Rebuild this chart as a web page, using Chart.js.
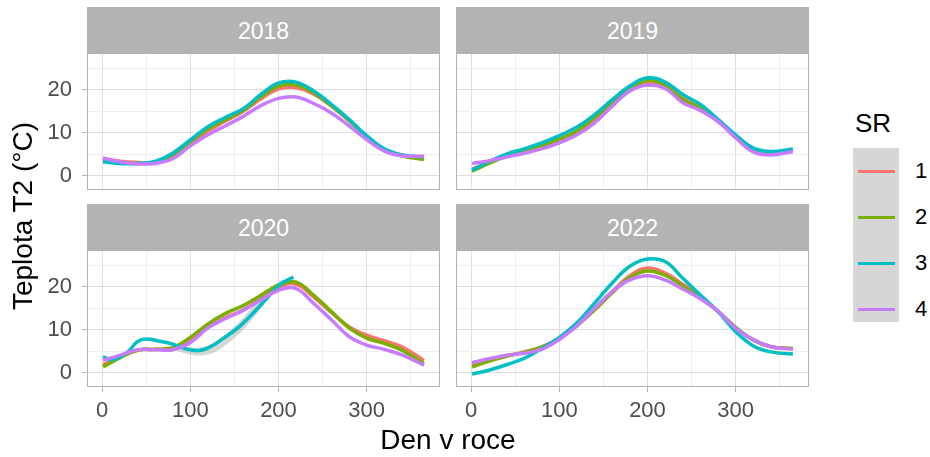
<!DOCTYPE html>
<html>
<head>
<meta charset="utf-8">
<script src="https://cdn.jsdelivr.net/npm/chart.js@4.4.1/dist/chart.umd.min.js"></script>
<style>
  body { margin: 0; background: #fff; width: 930px; height: 457px; overflow: hidden; position: relative;
         font-family: "Liberation Sans", Arial, sans-serif; }
  canvas { position: absolute; }
  .strip { position: absolute; width: 353px; height: 46px; background: #B3B3B3; color: #fff;
           font-size: 23px; line-height: 48px; text-align: center; z-index: 2; }
  .title { position: absolute; font-size: 28px; line-height: 28px; color: #000; text-align: center; z-index: 2; }
  .key-box { position: absolute; left: 853px; top: 148px; width: 46px; height: 174px; background: #D6D6D6; }
  .key-line { position: absolute; left: 858px; width: 37px; height: 3px; }
  .key-label { position: absolute; left: 915px; font-size: 22px; line-height: 22px; color: #000; }
</style>
</head>
<body>
<canvas id="c2018" width="440" height="137" style="left:0px;top:53px"></canvas>
<canvas id="c2019" width="353" height="137" style="left:456px;top:53px"></canvas>
<canvas id="c2020" width="440" height="207" style="left:0px;top:250px"></canvas>
<canvas id="c2022" width="353" height="207" style="left:456px;top:250px"></canvas>

<div class="strip" style="left:87px;top:7px">2018</div>
<div class="strip" style="left:456px;top:7px">2019</div>
<div class="strip" style="left:87px;top:204px">2020</div>
<div class="strip" style="left:456px;top:204px">2022</div>

<div class="title" style="left:298px;top:426px;width:300px">Den v roce</div>
<div class="title" style="left:-127px;top:202px;width:300px;transform:rotate(-90deg)">Teplota T2 (°C)</div>

<div class="title" style="left:855px;top:110px;font-size:26px;line-height:26px;text-align:left">SR</div>
<div class="key-box"></div>
<div id="legend"></div>

<script>
const days = [1, 20, 40, 60, 80, 100, 120, 140, 160, 180, 200, 220, 240, 260, 280, 300, 320, 340, 365];

const t2018_sr1 = [4.0, 3.3, 3.0, 3.1, 4.5, 7.6, 10.4, 12.7, 15.0, 17.9, 20.2, 20.5, 19.0, 16.2, 12.8, 9.0, 6.1, 4.7, 4.0];
const t2018_sr2 = [3.6, 3.0, 2.8, 3.1, 4.8, 7.9, 10.9, 13.0, 15.2, 18.4, 20.9, 21.1, 19.3, 16.3, 12.9, 9.1, 6.1, 4.6, 3.7];
const t2018_sr3 = [3.2, 2.8, 2.8, 3.3, 5.2, 8.3, 11.4, 13.6, 15.6, 18.9, 21.6, 21.8, 19.7, 16.6, 13.1, 9.3, 6.2, 4.8, 4.3];
const t2018_sr4 = [4.0, 3.2, 2.7, 2.8, 3.9, 6.9, 9.5, 11.6, 13.8, 16.3, 18.0, 18.3, 16.8, 14.6, 11.6, 8.4, 5.7, 4.6, 4.5];

const t2019_sr1 = [1.5, 3.0, 4.5, 5.6, 6.6, 8.0, 10.0, 13.0, 16.8, 20.0, 21.6, 20.8, 18.0, 15.8, 12.8, 9.0, 5.8, 5.0, 5.8];
const t2019_sr2 = [1.0, 2.8, 4.5, 5.8, 7.0, 8.5, 10.4, 13.5, 17.0, 20.4, 22.2, 21.0, 17.7, 15.8, 12.9, 9.1, 5.9, 5.2, 5.9];
const t2019_sr3 = [1.2, 3.2, 5.0, 6.2, 7.6, 9.3, 11.3, 14.2, 17.7, 20.9, 22.8, 21.8, 18.9, 16.6, 13.1, 9.5, 6.4, 5.6, 6.2];
const t2019_sr4 = [2.8, 3.4, 4.3, 5.2, 6.2, 7.6, 9.5, 12.3, 16.2, 19.7, 21.1, 20.3, 17.0, 15.2, 12.6, 8.8, 5.5, 4.8, 5.6];

const t2020_sr1 = [1.8, 3.6, 5.2, 5.4, 5.6, 7.6, 10.6, 12.8, 14.6, 17.2, 19.9, 20.6, 17.6, 14.0, 10.7, 8.7, 7.4, 6.0, 2.8];
const t2020_sr2 = [1.3, 3.4, 5.2, 5.4, 5.8, 8.2, 11.3, 13.8, 15.6, 18.0, 20.4, 21.1, 18.0, 14.2, 10.4, 8.0, 6.8, 5.2, 2.1];
const t2020_sr4 = [2.9, 4.0, 5.3, 5.3, 5.3, 7.0, 10.4, 12.6, 14.5, 16.9, 19.2, 19.6, 16.1, 12.3, 8.4, 6.4, 5.4, 4.1, 1.7];
// SR 3 in 2020 stops in early August
const days2020_sr3 = [1, 12, 28, 40, 50, 65, 80, 95, 110, 122, 137, 155, 170, 185, 200, 217];
const t2020_sr3 = [3.6, 3.0, 4.6, 7.2, 7.8, 7.3, 6.6, 5.5, 5.1, 5.9, 7.9, 10.6, 13.6, 16.9, 20.3, 22.3];
// visible confidence band around SR 3 in 2020
const bandDays = [85, 100, 115, 130, 145, 160, 175, 190, 205];
const bandLow = [5.0, 4.2, 4.0, 5.0, 7.2, 10.0, 13.6, 17.5, 20.5];
const bandHigh = [6.4, 5.8, 6.0, 7.4, 9.8, 12.8, 16.4, 19.6, 21.8];

const t2022_sr1 = [1.7, 2.8, 3.8, 4.8, 6.0, 8.0, 11.0, 14.8, 18.8, 22.6, 24.4, 23.2, 20.6, 17.6, 14.3, 10.5, 7.6, 6.0, 5.5];
const t2022_sr2 = [1.3, 2.6, 3.8, 4.7, 5.9, 7.9, 10.9, 14.6, 18.6, 22.2, 23.7, 22.7, 20.2, 17.4, 14.3, 10.5, 7.6, 6.0, 5.6];
const t2022_sr3 = [-0.4, 0.5, 1.8, 3.3, 5.6, 8.2, 11.6, 16.2, 20.9, 24.8, 26.5, 25.9, 22.0, 18.1, 14.2, 9.5, 6.2, 4.8, 4.3];
const t2022_sr4 = [2.3, 3.2, 4.0, 4.5, 5.4, 7.7, 10.9, 15.0, 18.9, 21.6, 22.6, 21.6, 19.5, 17.2, 14.3, 10.3, 7.6, 6.0, 5.4];

const srLabels = ['1', '2', '3', '4'];
const srColors = ['#F8766D', '#7CAE00', '#00BFC4', '#C77CFF'];
const xGrid = [0, 50, 100, 150, 200, 250, 300, 350];
const yGrid = [0, 5, 10, 15, 20, 25];

Chart.defaults.font.family = '"Liberation Sans", Arial, sans-serif';
Chart.defaults.color = '#4D4D4D';

// ggplot-like panel frame
const panelBorder = {
  id: 'panelBorder',
  afterDatasetsDraw(chart) {
    const { ctx, chartArea: a } = chart;
    ctx.save();
    ctx.strokeStyle = '#B3B3B3';
    ctx.lineWidth = 1;
    ctx.strokeRect(a.left + 0.5, a.top + 0.5, a.right - a.left - 1, a.bottom - a.top - 1);
    ctx.restore();
  }
};

function toPoints(xs, ys) {
  return xs.map((d, k) => ({ x: d, y: ys[k] }));
}

function lineSet(values, i, xs) {
  return {
    label: srLabels[i],
    data: toPoints(xs || days, values),
    borderColor: srColors[i],
    borderWidth: 3.5,
    pointRadius: 0,
    tension: 0.4,
    fill: false,
    order: 4 - i
  };
}

// keep the panel exactly where the axes say, no label padding
function noPad(s) {
  s.paddingTop = 0;
  s.paddingBottom = 0;
  s.paddingLeft = 0;
  s.paddingRight = 0;
}

function panel(id, datasets, showX, showY) {
  const isMajorX = c => c.tick && c.tick.value % 100 === 0;
  const isMajorY = c => c.tick && c.tick.value % 10 === 0;
  new Chart(document.getElementById(id), {
    type: 'line',
    data: { datasets: datasets },
    plugins: [panelBorder],
    options: {
      responsive: false,
      animation: false,
      layout: { padding: 0, autoPadding: false },
      plugins: { legend: { display: false }, tooltip: { enabled: false } },
      events: [],
      scales: {
        x: {
          type: 'linear', min: -17.2, max: 383.2,
          afterBuildTicks: s => { s.ticks = xGrid.map(v => ({ value: v })); },
          afterFit: s => { s.height = showX ? 70 : 0; noPad(s); },
          border: { display: false },
          grid: {
            color: c => isMajorX(c) ? '#DEDEDE' : '#EDEDED',
            lineWidth: 1,
            drawTicks: showX,
            tickLength: 5,
            tickColor: c => isMajorX(c) ? '#B3B3B3' : 'rgba(0,0,0,0)'
          },
          ticks: {
            display: showX, autoSkip: false, maxRotation: 0, padding: 6,
            color: '#4D4D4D', font: { size: 22 },
            callback: v => v % 100 === 0 ? v : ''
          }
        },
        y: {
          type: 'linear', min: -3.4, max: 28.6,
          afterBuildTicks: s => { s.ticks = yGrid.map(v => ({ value: v })); },
          afterFit: s => { s.width = showY ? 87 : 0; noPad(s); },
          border: { display: false },
          grid: {
            color: c => isMajorY(c) ? '#DEDEDE' : '#EDEDED',
            lineWidth: 1,
            drawTicks: showY,
            tickLength: 5,
            tickColor: c => isMajorY(c) ? '#B3B3B3' : 'rgba(0,0,0,0)'
          },
          ticks: {
            display: showY, autoSkip: false, padding: 10,
            color: '#4D4D4D', font: { size: 22 },
            callback: v => v % 10 === 0 ? v : ''
          }
        }
      }
    }
  });
}

panel('c2018', [
  lineSet(t2018_sr1, 0), lineSet(t2018_sr2, 1), lineSet(t2018_sr3, 2), lineSet(t2018_sr4, 3)
], false, true);

panel('c2019', [
  lineSet(t2019_sr1, 0), lineSet(t2019_sr2, 1), lineSet(t2019_sr3, 2), lineSet(t2019_sr4, 3)
], false, false);

panel('c2020', [
  { data: toPoints(bandDays, bandLow), borderWidth: 0, pointRadius: 0, fill: false, tension: 0.4, order: 10 },
  { data: toPoints(bandDays, bandHigh), borderWidth: 0, pointRadius: 0, fill: '-1', tension: 0.4,
    backgroundColor: 'rgba(153,153,153,0.4)', order: 10 },
  lineSet(t2020_sr1, 0), lineSet(t2020_sr2, 1), lineSet(t2020_sr3, 2, days2020_sr3), lineSet(t2020_sr4, 3)
], true, true);

panel('c2022', [
  lineSet(t2022_sr1, 0), lineSet(t2022_sr2, 1), lineSet(t2022_sr3, 2), lineSet(t2022_sr4, 3)
], true, false);

// legend keys
const legend = document.getElementById('legend');
const keyY = [171, 217, 263, 309];
srLabels.forEach((lab, i) => {
  const line = document.createElement('div');
  line.className = 'key-line';
  line.style.top = (keyY[i] - 1.5) + 'px';
  line.style.background = srColors[i];
  legend.appendChild(line);
  const txt = document.createElement('div');
  txt.className = 'key-label';
  txt.style.top = (keyY[i] - 11) + 'px';
  txt.textContent = lab;
  legend.appendChild(txt);
});
</script>
</body>
</html>
